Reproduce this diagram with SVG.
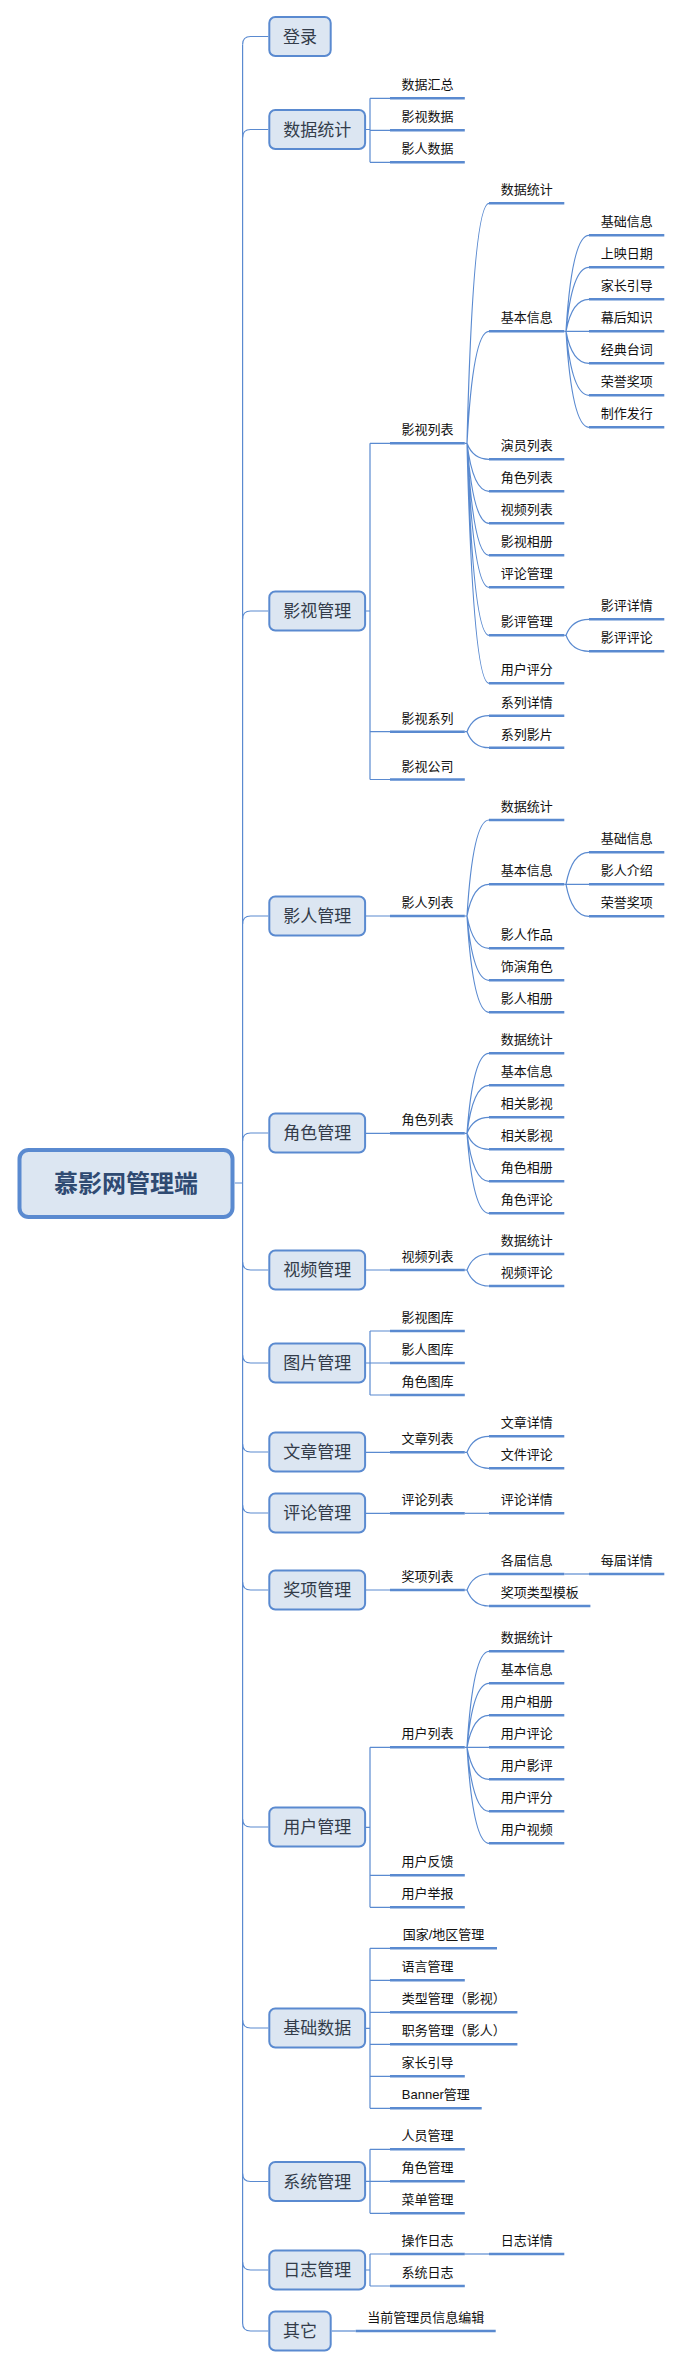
<svg xmlns="http://www.w3.org/2000/svg" width="678" height="2368" viewBox="0 0 678 2368">
<style>
.box{fill:#DCE6F2;stroke:#5A8AD0;stroke-width:2}
.root{fill:#DCE6F2;stroke:#5A8AD0;stroke-width:4}
.ul{stroke:#5A8AD0;stroke-width:2.5}
.c{fill:none;stroke:#5A8AD0;stroke-width:1.2}
.bt{font-family:"Liberation Sans","Noto Sans CJK SC",sans-serif;font-size:17px;fill:#333C4A;text-anchor:middle}
.rt{font-family:"Liberation Sans","Noto Sans CJK SC",sans-serif;font-size:24px;font-weight:bold;fill:#2F4A72;text-anchor:middle}
.t{font-family:"Liberation Sans","Noto Sans CJK SC",sans-serif;font-size:13px;fill:#111;text-anchor:middle}
</style>
<rect width="678" height="2368" fill="#fff"/>
<g id="connectors">
<path class="c" d="M234.8,1183H242.6M242.6,44.5V2323"/>
<path class="c" d="M242.6,44.5Q242.6,36.5 250.6,36.5H268.3M242.6,137.5Q242.6,129.5 250.6,129.5H268.3M242.6,619Q242.6,611 250.6,611H268.3M242.6,924Q242.6,916 250.6,916H268.3M242.6,1141Q242.6,1133 250.6,1133H268.3M242.6,1262Q242.6,1270 250.6,1270H268.3M242.6,1355Q242.6,1363 250.6,1363H268.3M242.6,1444Q242.6,1452 250.6,1452H268.3M242.6,1505Q242.6,1513 250.6,1513H268.3M242.6,1582Q242.6,1590 250.6,1590H268.3M242.6,1819Q242.6,1827 250.6,1827H268.3M242.6,2020Q242.6,2028 250.6,2028H268.3M242.6,2173.5Q242.6,2181.5 250.6,2181.5H268.3M242.6,2262Q242.6,2270 250.6,2270H268.3M242.6,2323Q242.6,2331 250.6,2331H268.3"/>
<path class="c" d="M366,129.5H370M370,98.3V162.3M370,98.3H390M370,130.3H390M370,162.3H390"/>
<path class="c" d="M366,611H370M370,443.3V779.5M370,443.3H390M370,731.7H390M370,779.5H390"/>
<path class="c" d="M366,916H390M366,1133.3H390M366,1270H390M366,1452.3H390M366,1513.3H390M366,1590H390"/>
<path class="c" d="M366,1363H370M370,1331V1395M370,1331H390M370,1363H390M370,1395H390"/>
<path class="c" d="M366,1827.3H370M370,1747.3V1907.3M370,1747.3H390M370,1875.3H390M370,1907.3H390"/>
<path class="c" d="M366,2028.3H370M370,1948.3V2108.3M370,1948.3H390M370,1980.3H390M370,2012.3H390M370,2044.3H390M370,2076.3H390M370,2108.3H390"/>
<path class="c" d="M366,2181.3H370M370,2149.3V2213.3M370,2149.3H390M370,2181.3H390M370,2213.3H390"/>
<path class="c" d="M366,2270H370M370,2254V2286M370,2254H390M370,2286H390"/>
<path class="c" d="M331.7,2331H355.7"/>
<path class="c" d="M464.8,443.3H467Q473,203.3 489,203.3M464.8,443.3H467Q473,331.3 489,331.3M464.8,443.3H467Q473,459.3 489,459.3M464.8,443.3H467Q473,491.3 489,491.3M464.8,443.3H467Q473,523.3 489,523.3M464.8,443.3H467Q473,555.3 489,555.3M464.8,443.3H467Q473,587.3 489,587.3M464.8,443.3H467Q473,635.3 489,635.3M464.8,443.3H467Q473,683.3 489,683.3"/>
<path class="c" d="M464.8,731.7H467Q473,715.7 489,715.7M464.8,731.7H467Q473,747.7 489,747.7"/>
<path class="c" d="M464.8,916H467Q473,820 489,820M464.8,916H467Q473,884.3 489,884.3M464.8,916H467Q473,948.3 489,948.3M464.8,916H467Q473,980.3 489,980.3M464.8,916H467Q473,1012.3 489,1012.3"/>
<path class="c" d="M464.8,1133.3H467Q473,1053.3 489,1053.3M464.8,1133.3H467Q473,1085.3 489,1085.3M464.8,1133.3H467Q473,1117.3 489,1117.3M464.8,1133.3H467Q473,1149.3 489,1149.3M464.8,1133.3H467Q473,1181.3 489,1181.3M464.8,1133.3H467Q473,1213.3 489,1213.3"/>
<path class="c" d="M464.8,1270H467Q473,1254 489,1254M464.8,1270H467Q473,1286 489,1286"/>
<path class="c" d="M464.8,1452.3H467Q473,1436.3 489,1436.3M464.8,1452.3H467Q473,1468.3 489,1468.3"/>
<path class="c" d="M464.8,1513.3H489"/>
<path class="c" d="M464.8,1590H467Q473,1574 489,1574M464.8,1590H467Q473,1606 489,1606"/>
<path class="c" d="M464.8,1747.3H467Q473,1651.3 489,1651.3M464.8,1747.3H467Q473,1683.3 489,1683.3M464.8,1747.3H467Q473,1715.3 489,1715.3M464.8,1747.3H489M464.8,1747.3H467Q473,1779.3 489,1779.3M464.8,1747.3H467Q473,1811.3 489,1811.3M464.8,1747.3H467Q473,1843.3 489,1843.3"/>
<path class="c" d="M464.8,2254H489"/>
<path class="c" d="M564.3,331.3H566Q572,235.3 589,235.3M564.3,331.3H566Q572,267.3 589,267.3M564.3,331.3H566Q572,299.3 589,299.3M564.3,331.3H589M564.3,331.3H566Q572,363.3 589,363.3M564.3,331.3H566Q572,395.3 589,395.3M564.3,331.3H566Q572,427.3 589,427.3"/>
<path class="c" d="M564.3,635.3H566Q572,619.3 589,619.3M564.3,635.3H566Q572,651.3 589,651.3"/>
<path class="c" d="M564.3,884.3H566Q572,852.3 589,852.3M564.3,884.3H589M564.3,884.3H566Q572,916.3 589,916.3"/>
<path class="c" d="M564.3,1574H589"/>
</g>
<g id="root"><rect class="root" x="19.5" y="1150" width="213" height="67" rx="9"/><text class="rt" x="126" y="1192">慕影网管理端</text></g>
<g id="n-login"><rect class="box" x="269.3" y="17" width="61.4" height="39" rx="6"/><text class="bt" x="300" y="42.5">登录</text></g>
<g id="n-stats"><rect class="box" x="269.3" y="110" width="95.8" height="39" rx="6"/><text class="bt" x="317.2" y="135.5">数据统计</text></g>
<g id="n-film"><rect class="box" x="269.3" y="591.5" width="95.8" height="39" rx="6"/><text class="bt" x="317.2" y="617">影视管理</text></g>
<g id="n-person"><rect class="box" x="269.3" y="896.5" width="95.8" height="39" rx="6"/><text class="bt" x="317.2" y="922">影人管理</text></g>
<g id="n-role"><rect class="box" x="269.3" y="1113.5" width="95.8" height="39" rx="6"/><text class="bt" x="317.2" y="1139">角色管理</text></g>
<g id="n-video"><rect class="box" x="269.3" y="1250.5" width="95.8" height="39" rx="6"/><text class="bt" x="317.2" y="1276">视频管理</text></g>
<g id="n-pic"><rect class="box" x="269.3" y="1343.5" width="95.8" height="39" rx="6"/><text class="bt" x="317.2" y="1369">图片管理</text></g>
<g id="n-article"><rect class="box" x="269.3" y="1432.5" width="95.8" height="39" rx="6"/><text class="bt" x="317.2" y="1458">文章管理</text></g>
<g id="n-comment"><rect class="box" x="269.3" y="1493.5" width="95.8" height="39" rx="6"/><text class="bt" x="317.2" y="1519">评论管理</text></g>
<g id="n-award"><rect class="box" x="269.3" y="1570.5" width="95.8" height="39" rx="6"/><text class="bt" x="317.2" y="1596">奖项管理</text></g>
<g id="n-user"><rect class="box" x="269.3" y="1807.5" width="95.8" height="39" rx="6"/><text class="bt" x="317.2" y="1833">用户管理</text></g>
<g id="n-base"><rect class="box" x="269.3" y="2008.5" width="95.8" height="39" rx="6"/><text class="bt" x="317.2" y="2034">基础数据</text></g>
<g id="n-sys"><rect class="box" x="269.3" y="2162" width="95.8" height="39" rx="6"/><text class="bt" x="317.2" y="2187.5">系统管理</text></g>
<g id="n-log"><rect class="box" x="269.3" y="2250.5" width="95.8" height="39" rx="6"/><text class="bt" x="317.2" y="2276">日志管理</text></g>
<g id="n-other"><rect class="box" x="269.3" y="2311.5" width="61.4" height="39" rx="6"/><text class="bt" x="300" y="2337">其它</text></g>

<g id="l2-1"><line class="ul" x1="390" y1="98.3" x2="464.8" y2="98.3"/><text class="t" x="427.4" y="89.3">数据汇总</text></g>
<g id="l2-2"><line class="ul" x1="390" y1="130.3" x2="464.8" y2="130.3"/><text class="t" x="427.4" y="121.3">影视数据</text></g>
<g id="l2-3"><line class="ul" x1="390" y1="162.3" x2="464.8" y2="162.3"/><text class="t" x="427.4" y="153.3">影人数据</text></g>
<g id="l2-4"><line class="ul" x1="390" y1="443.3" x2="464.8" y2="443.3"/><text class="t" x="427.4" y="434.3">影视列表</text></g>
<g id="l2-5"><line class="ul" x1="390" y1="731.7" x2="464.8" y2="731.7"/><text class="t" x="427.4" y="722.7">影视系列</text></g>
<g id="l2-6"><line class="ul" x1="390" y1="779.5" x2="464.8" y2="779.5"/><text class="t" x="427.4" y="770.5">影视公司</text></g>
<g id="l2-7"><line class="ul" x1="390" y1="916" x2="464.8" y2="916"/><text class="t" x="427.4" y="907">影人列表</text></g>
<g id="l2-8"><line class="ul" x1="390" y1="1133.3" x2="464.8" y2="1133.3"/><text class="t" x="427.4" y="1124.3">角色列表</text></g>
<g id="l2-9"><line class="ul" x1="390" y1="1270" x2="464.8" y2="1270"/><text class="t" x="427.4" y="1261">视频列表</text></g>
<g id="l2-10"><line class="ul" x1="390" y1="1331" x2="464.8" y2="1331"/><text class="t" x="427.4" y="1322">影视图库</text></g>
<g id="l2-11"><line class="ul" x1="390" y1="1363" x2="464.8" y2="1363"/><text class="t" x="427.4" y="1354">影人图库</text></g>
<g id="l2-12"><line class="ul" x1="390" y1="1395" x2="464.8" y2="1395"/><text class="t" x="427.4" y="1386">角色图库</text></g>
<g id="l2-13"><line class="ul" x1="390" y1="1452.3" x2="464.8" y2="1452.3"/><text class="t" x="427.4" y="1443.3">文章列表</text></g>
<g id="l2-14"><line class="ul" x1="390" y1="1513.3" x2="464.8" y2="1513.3"/><text class="t" x="427.4" y="1504.3">评论列表</text></g>
<g id="l2-15"><line class="ul" x1="390" y1="1590" x2="464.8" y2="1590"/><text class="t" x="427.4" y="1581">奖项列表</text></g>
<g id="l2-16"><line class="ul" x1="390" y1="1747.3" x2="464.8" y2="1747.3"/><text class="t" x="427.4" y="1738.3">用户列表</text></g>
<g id="l2-17"><line class="ul" x1="390" y1="1875.3" x2="464.8" y2="1875.3"/><text class="t" x="427.4" y="1866.3">用户反馈</text></g>
<g id="l2-18"><line class="ul" x1="390" y1="1907.3" x2="464.8" y2="1907.3"/><text class="t" x="427.4" y="1898.3">用户举报</text></g>
<g id="l2-19"><line class="ul" x1="390" y1="1948.3" x2="497" y2="1948.3"/><text class="t" x="443.5" y="1939.3">国家/地区管理</text></g>
<g id="l2-20"><line class="ul" x1="390" y1="1980.3" x2="464.8" y2="1980.3"/><text class="t" x="427.4" y="1971.3">语言管理</text></g>
<g id="l2-21"><line class="ul" x1="390" y1="2012.3" x2="517.4" y2="2012.3"/><text class="t" x="453.7" y="2003.3">类型管理（影视）</text></g>
<g id="l2-22"><line class="ul" x1="390" y1="2044.3" x2="517.4" y2="2044.3"/><text class="t" x="453.7" y="2035.3">职务管理（影人）</text></g>
<g id="l2-23"><line class="ul" x1="390" y1="2076.3" x2="464.8" y2="2076.3"/><text class="t" x="427.4" y="2067.3">家长引导</text></g>
<g id="l2-24"><line class="ul" x1="390" y1="2108.3" x2="481.7" y2="2108.3"/><text class="t" x="435.8" y="2099.3">Banner管理</text></g>
<g id="l2-25"><line class="ul" x1="390" y1="2149.3" x2="464.8" y2="2149.3"/><text class="t" x="427.4" y="2140.3">人员管理</text></g>
<g id="l2-26"><line class="ul" x1="390" y1="2181.3" x2="464.8" y2="2181.3"/><text class="t" x="427.4" y="2172.3">角色管理</text></g>
<g id="l2-27"><line class="ul" x1="390" y1="2213.3" x2="464.8" y2="2213.3"/><text class="t" x="427.4" y="2204.3">菜单管理</text></g>
<g id="l2-28"><line class="ul" x1="390" y1="2254" x2="464.8" y2="2254"/><text class="t" x="427.4" y="2245">操作日志</text></g>
<g id="l2-29"><line class="ul" x1="390" y1="2286" x2="464.8" y2="2286"/><text class="t" x="427.4" y="2277">系统日志</text></g>
<g id="l2-30"><line class="ul" x1="355.7" y1="2331" x2="495.7" y2="2331"/><text class="t" x="425.7" y="2322">当前管理员信息编辑</text></g>

<g id="l3-1"><line class="ul" x1="489" y1="203.3" x2="564.3" y2="203.3"/><text class="t" x="526.7" y="194.3">数据统计</text></g>
<g id="l3-2"><line class="ul" x1="489" y1="331.3" x2="564.3" y2="331.3"/><text class="t" x="526.7" y="322.3">基本信息</text></g>
<g id="l3-3"><line class="ul" x1="489" y1="459.3" x2="564.3" y2="459.3"/><text class="t" x="526.7" y="450.3">演员列表</text></g>
<g id="l3-4"><line class="ul" x1="489" y1="491.3" x2="564.3" y2="491.3"/><text class="t" x="526.7" y="482.3">角色列表</text></g>
<g id="l3-5"><line class="ul" x1="489" y1="523.3" x2="564.3" y2="523.3"/><text class="t" x="526.7" y="514.3">视频列表</text></g>
<g id="l3-6"><line class="ul" x1="489" y1="555.3" x2="564.3" y2="555.3"/><text class="t" x="526.7" y="546.3">影视相册</text></g>
<g id="l3-7"><line class="ul" x1="489" y1="587.3" x2="564.3" y2="587.3"/><text class="t" x="526.7" y="578.3">评论管理</text></g>
<g id="l3-8"><line class="ul" x1="489" y1="635.3" x2="564.3" y2="635.3"/><text class="t" x="526.7" y="626.3">影评管理</text></g>
<g id="l3-9"><line class="ul" x1="489" y1="683.3" x2="564.3" y2="683.3"/><text class="t" x="526.7" y="674.3">用户评分</text></g>
<g id="l3-10"><line class="ul" x1="489" y1="715.7" x2="564.3" y2="715.7"/><text class="t" x="526.7" y="706.7">系列详情</text></g>
<g id="l3-11"><line class="ul" x1="489" y1="747.7" x2="564.3" y2="747.7"/><text class="t" x="526.7" y="738.7">系列影片</text></g>
<g id="l3-12"><line class="ul" x1="489" y1="820" x2="564.3" y2="820"/><text class="t" x="526.7" y="811">数据统计</text></g>
<g id="l3-13"><line class="ul" x1="489" y1="884.3" x2="564.3" y2="884.3"/><text class="t" x="526.7" y="875.3">基本信息</text></g>
<g id="l3-14"><line class="ul" x1="489" y1="948.3" x2="564.3" y2="948.3"/><text class="t" x="526.7" y="939.3">影人作品</text></g>
<g id="l3-15"><line class="ul" x1="489" y1="980.3" x2="564.3" y2="980.3"/><text class="t" x="526.7" y="971.3">饰演角色</text></g>
<g id="l3-16"><line class="ul" x1="489" y1="1012.3" x2="564.3" y2="1012.3"/><text class="t" x="526.7" y="1003.3">影人相册</text></g>
<g id="l3-17"><line class="ul" x1="489" y1="1053.3" x2="564.3" y2="1053.3"/><text class="t" x="526.7" y="1044.3">数据统计</text></g>
<g id="l3-18"><line class="ul" x1="489" y1="1085.3" x2="564.3" y2="1085.3"/><text class="t" x="526.7" y="1076.3">基本信息</text></g>
<g id="l3-19"><line class="ul" x1="489" y1="1117.3" x2="564.3" y2="1117.3"/><text class="t" x="526.7" y="1108.3">相关影视</text></g>
<g id="l3-20"><line class="ul" x1="489" y1="1149.3" x2="564.3" y2="1149.3"/><text class="t" x="526.7" y="1140.3">相关影视</text></g>
<g id="l3-21"><line class="ul" x1="489" y1="1181.3" x2="564.3" y2="1181.3"/><text class="t" x="526.7" y="1172.3">角色相册</text></g>
<g id="l3-22"><line class="ul" x1="489" y1="1213.3" x2="564.3" y2="1213.3"/><text class="t" x="526.7" y="1204.3">角色评论</text></g>
<g id="l3-23"><line class="ul" x1="489" y1="1254" x2="564.3" y2="1254"/><text class="t" x="526.7" y="1245">数据统计</text></g>
<g id="l3-24"><line class="ul" x1="489" y1="1286" x2="564.3" y2="1286"/><text class="t" x="526.7" y="1277">视频评论</text></g>
<g id="l3-25"><line class="ul" x1="489" y1="1436.3" x2="564.3" y2="1436.3"/><text class="t" x="526.7" y="1427.3">文章详情</text></g>
<g id="l3-26"><line class="ul" x1="489" y1="1468.3" x2="564.3" y2="1468.3"/><text class="t" x="526.7" y="1459.3">文件评论</text></g>
<g id="l3-27"><line class="ul" x1="489" y1="1513.3" x2="564.3" y2="1513.3"/><text class="t" x="526.7" y="1504.3">评论详情</text></g>
<g id="l3-28"><line class="ul" x1="489" y1="1574" x2="564.3" y2="1574"/><text class="t" x="526.7" y="1565">各届信息</text></g>
<g id="l3-29"><line class="ul" x1="489" y1="1606" x2="590.4" y2="1606"/><text class="t" x="539.7" y="1597">奖项类型模板</text></g>
<g id="l3-30"><line class="ul" x1="489" y1="1651.3" x2="564.3" y2="1651.3"/><text class="t" x="526.7" y="1642.3">数据统计</text></g>
<g id="l3-31"><line class="ul" x1="489" y1="1683.3" x2="564.3" y2="1683.3"/><text class="t" x="526.7" y="1674.3">基本信息</text></g>
<g id="l3-32"><line class="ul" x1="489" y1="1715.3" x2="564.3" y2="1715.3"/><text class="t" x="526.7" y="1706.3">用户相册</text></g>
<g id="l3-33"><line class="ul" x1="489" y1="1747.3" x2="564.3" y2="1747.3"/><text class="t" x="526.7" y="1738.3">用户评论</text></g>
<g id="l3-34"><line class="ul" x1="489" y1="1779.3" x2="564.3" y2="1779.3"/><text class="t" x="526.7" y="1770.3">用户影评</text></g>
<g id="l3-35"><line class="ul" x1="489" y1="1811.3" x2="564.3" y2="1811.3"/><text class="t" x="526.7" y="1802.3">用户评分</text></g>
<g id="l3-36"><line class="ul" x1="489" y1="1843.3" x2="564.3" y2="1843.3"/><text class="t" x="526.7" y="1834.3">用户视频</text></g>
<g id="l3-37"><line class="ul" x1="489" y1="2254" x2="564.3" y2="2254"/><text class="t" x="526.7" y="2245">日志详情</text></g>

<g id="l4-1"><line class="ul" x1="589" y1="235.3" x2="664.3" y2="235.3"/><text class="t" x="626.7" y="226.3">基础信息</text></g>
<g id="l4-2"><line class="ul" x1="589" y1="267.3" x2="664.3" y2="267.3"/><text class="t" x="626.7" y="258.3">上映日期</text></g>
<g id="l4-3"><line class="ul" x1="589" y1="299.3" x2="664.3" y2="299.3"/><text class="t" x="626.7" y="290.3">家长引导</text></g>
<g id="l4-4"><line class="ul" x1="589" y1="331.3" x2="664.3" y2="331.3"/><text class="t" x="626.7" y="322.3">幕后知识</text></g>
<g id="l4-5"><line class="ul" x1="589" y1="363.3" x2="664.3" y2="363.3"/><text class="t" x="626.7" y="354.3">经典台词</text></g>
<g id="l4-6"><line class="ul" x1="589" y1="395.3" x2="664.3" y2="395.3"/><text class="t" x="626.7" y="386.3">荣誉奖项</text></g>
<g id="l4-7"><line class="ul" x1="589" y1="427.3" x2="664.3" y2="427.3"/><text class="t" x="626.7" y="418.3">制作发行</text></g>
<g id="l4-8"><line class="ul" x1="589" y1="619.3" x2="664.3" y2="619.3"/><text class="t" x="626.7" y="610.3">影评详情</text></g>
<g id="l4-9"><line class="ul" x1="589" y1="651.3" x2="664.3" y2="651.3"/><text class="t" x="626.7" y="642.3">影评评论</text></g>
<g id="l4-10"><line class="ul" x1="589" y1="852.3" x2="664.3" y2="852.3"/><text class="t" x="626.7" y="843.3">基础信息</text></g>
<g id="l4-11"><line class="ul" x1="589" y1="884.3" x2="664.3" y2="884.3"/><text class="t" x="626.7" y="875.3">影人介绍</text></g>
<g id="l4-12"><line class="ul" x1="589" y1="916.3" x2="664.3" y2="916.3"/><text class="t" x="626.7" y="907.3">荣誉奖项</text></g>
<g id="l4-13"><line class="ul" x1="589" y1="1574" x2="664.3" y2="1574"/><text class="t" x="626.7" y="1565">每届详情</text></g>
</svg>
